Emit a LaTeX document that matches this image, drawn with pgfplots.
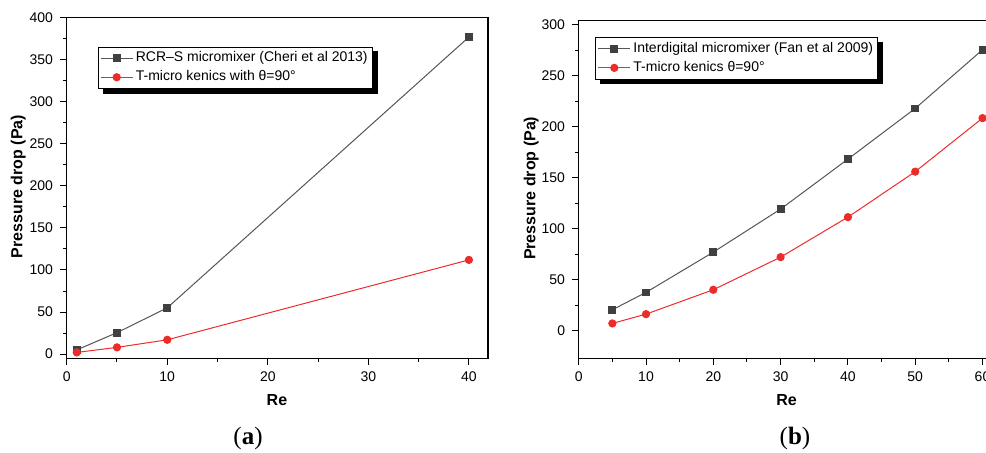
\documentclass[border=0pt]{standalone}
\usepackage{fontspec}
\setmainfont{Liberation Sans}
\newfontfamily\seriffont{Liberation Serif}
\usepackage{pgfplots}
\pgfplotsset{compat=1.18}
\definecolor{dgray}{HTML}{404040}
\definecolor{lgray}{HTML}{555555}
\definecolor{myred}{HTML}{EE2B2B}

\pgfplotsset{
 myaxis/.style={
  scale only axis, anchor=south west,
  axis line style={line width=0.6pt},
  tick align=outside, xtick pos=bottom, ytick pos=left,
  major tick length=3.3pt, minor tick length=1.8pt,
  every tick/.style={black, line width=0.5pt},
  minor tick num=1,
  tick label style={font=\fontsize{7}{8}\selectfont},
  /pgf/number format/assume math mode=true,
  label style={font=\bfseries\fontsize{8}{9}\selectfont},
  legend style={draw=black, line width=0.5pt, fill=white, anchor=north west,
    font=\fontsize{7}{8.5}\selectfont, inner sep=1pt, row sep=0.3pt,
    nodes={inner sep=1.3pt},
    cells={anchor=west}},
  legend image code/.code={\draw[mark repeat=2,mark phase=2] plot coordinates {(0pt,0pt)(8pt,0pt)(16pt,0pt)};},
 },
 sblack/.style={color=lgray, line width=0.5pt, mark=square*, mark size=1.7pt, mark options={fill=dgray, draw=dgray, solid}},
 sred/.style={color=myred, line width=0.5pt, mark=*, mark size=1.8pt, mark options={fill=myred, draw=myred, solid}},
}
\newcommand\legshadow[1]{%
  \fill[black] ([yshift=-2.4pt]#1.north east) rectangle ([xshift=2.4pt,yshift=-2.4pt]#1.south east);
  \fill[black] ([xshift=2.4pt]#1.south west) rectangle ([xshift=2.4pt,yshift=-2.4pt]#1.south east);}

\begin{document}
\begin{tikzpicture}
\useasboundingbox (0,0) rectangle (493pt,226pt);
\begin{axis}[myaxis, at={(33.35pt,46.85pt)}, width=210.65pt, height=170.3pt,
  xmin=0, xmax=41.9, ymin=-5, ymax=400,
  xtick={0,10,20,30,40}, ytick={0,50,...,400},
  xlabel={Re}, ylabel={Pressure drop (Pa)},
  xlabel style={at={(axis description cs:0.499,-0.122)}, anchor=center},
  ylabel style={at={(axis description cs:-0.115,0.504)}, anchor=center},
  legend style={at={(0.0736,0.915)}, name=legA}]
\addplot[sblack] coordinates {(1,5) (5,25.5) (10,55) (40,377)};
\addlegendentry{RCR–S micromixer (Cheri et al 2013)}
\addplot[sred] coordinates {(1,2) (5,8) (10,17) (40,112)};
\addlegendentry{T-micro kenics with θ=90°}
\end{axis}
\legshadow{legA}
\begin{axis}[myaxis, at={(289.35pt,46.85pt)}, width=208.65pt, height=168.8pt,
  xmin=0, xmax=62, ymin=-27, ymax=304,
  xtick={0,10,...,60}, ytick={0,50,...,300},
  xlabel={Re}, ylabel={Pressure drop (Pa)},
  xlabel style={at={(axis description cs:0.498,-0.1235)}, anchor=center},
  ylabel style={at={(axis description cs:-0.114,0.5035)}, anchor=center},
  legend style={at={(0.0398,0.951)}, name=legB}]
\addplot[sblack] coordinates {(5,20.6) (10,37.6) (20,77.1) (30,119.3) (40,168.3) (50,218) (60,275.5)};
\addlegendentry{Interdigital micromixer (Fan et al 2009)}
\addplot[sred] coordinates {(5,7.2) (10,16.3) (20,40.2) (30,72.2) (40,111.4) (50,156) (60,208.5)};
\addlegendentry{T-micro kenics θ=90°}
\end{axis}
\legshadow{legB}
\node[font=\seriffont\fontsize{12.5}{14}\selectfont] at (124pt,7pt) {(\textbf{a})};
\node[font=\seriffont\fontsize{12.5}{14}\selectfont] at (397.5pt,7pt) {(\textbf{b})};
\end{tikzpicture}
\end{document}
